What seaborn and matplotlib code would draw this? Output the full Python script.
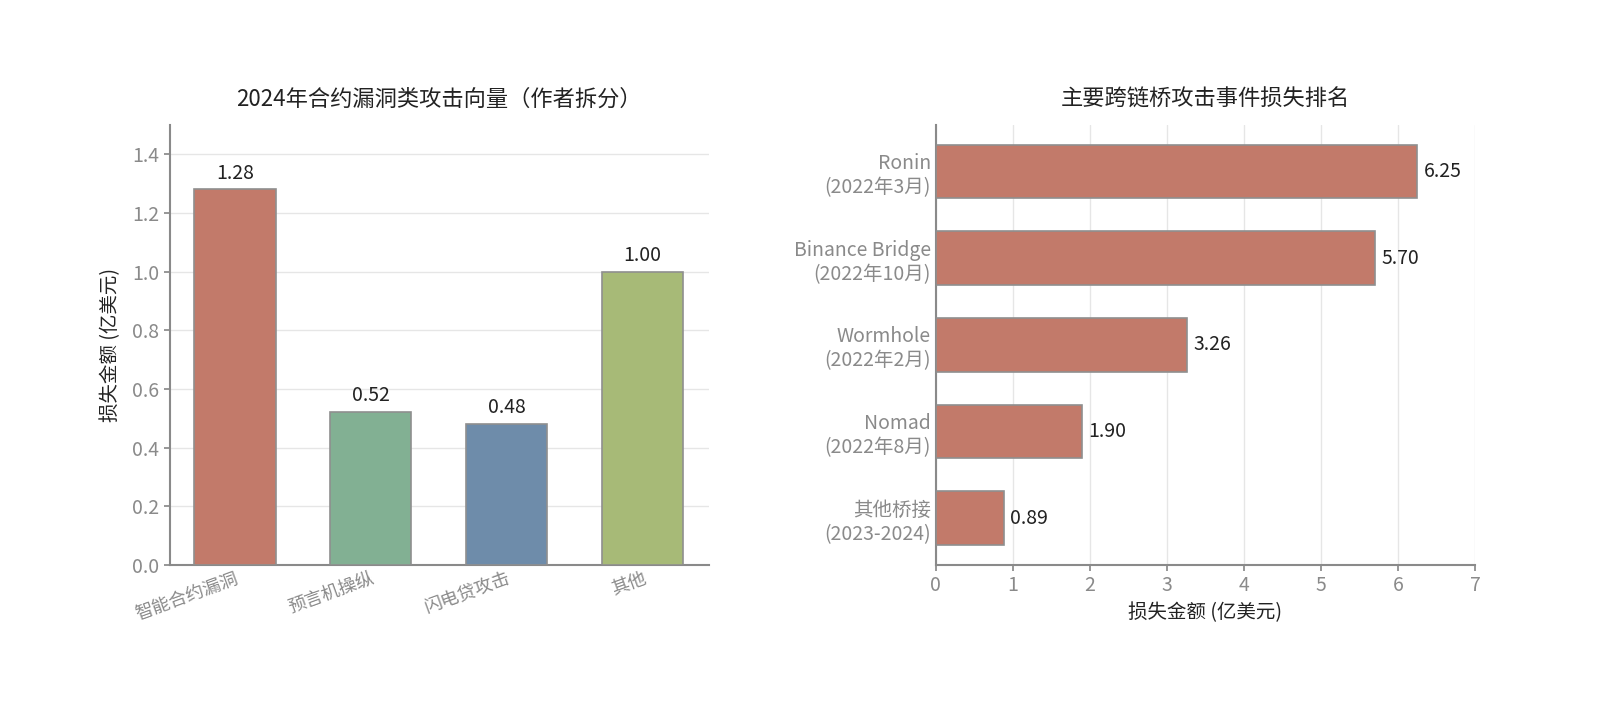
import matplotlib
matplotlib.use('Agg')
import matplotlib.pyplot as plt
import seaborn as sns
import pandas as pd

# data
vector_names = ['智能合约漏洞', '预言机操纵', '闪电贷攻击', '其他']
vector_losses = [1.28, 0.52, 0.48, 1.00]
vector_colors = ['#C27A6A', '#82B093', '#6E8CAA', '#A7BA77']

bridge_names = ['Ronin\n(2022年3月)', 'Binance Bridge\n(2022年10月)', 'Wormhole\n(2022年2月)',
                'Nomad\n(2022年8月)', '其他桥接\n(2023-2024)']
bridge_losses = [6.25, 5.70, 3.26, 1.90, 0.89]
bridge_color = '#C27A6A'

sns.set_theme(style='white')
plt.rcParams['font.family'] = ['Noto Sans CJK SC', 'DejaVu Sans']
plt.rcParams['axes.unicode_minus'] = False

tick_gray = '#8a8a8a'
spine_gray = '#8a8a8a'
text_dark = '#222222'

fig, (ax1, ax2) = plt.subplots(1, 2, figsize=(16, 7.26), dpi=100)
fig.subplots_adjust(left=0.106, right=0.922, top=0.828, bottom=0.222, wspace=0.42)

# left: attack vectors
df1 = pd.DataFrame({'类型': vector_names, '损失': vector_losses})
sns.barplot(data=df1, x='类型', y='损失', hue='类型', palette=vector_colors, legend=False,
            saturation=1, width=0.6, edgecolor='#8f8f8f', linewidth=1.2, ax=ax1, zorder=3)
ax1.set_ylim(0, 1.5)
ax1.set_xlim(-0.48, 3.49)
ax1.set_yticks([0, 0.2, 0.4, 0.6, 0.8, 1.0, 1.2, 1.4])
ax1.yaxis.grid(True, color='#e6e6e6', linewidth=1, zorder=0)
ax1.set_xlabel('')
ax1.set_ylabel('损失金额 (亿美元)', fontsize=14, color=text_dark, labelpad=8)
ax1.set_title('2024年合约漏洞类攻击向量（作者拆分）', fontsize=16, color=text_dark, pad=14)
for p, v in zip(ax1.patches, vector_losses):
    ax1.text(p.get_x() + p.get_width() / 2, v + 0.02, f'{v:.2f}', ha='center', va='bottom',
             fontsize=14, color=text_dark)
ax1.tick_params(axis='y', labelsize=14, colors=tick_gray, length=4, left=True)
ax1.tick_params(axis='x', labelsize=13, colors=tick_gray, length=0)
for lab in ax1.get_xticklabels():
    lab.set_rotation(20)
    lab.set_ha('right')
    lab.set_rotation_mode('anchor')

# right: bridge rankings
df2 = pd.DataFrame({'桥': bridge_names, '损失': bridge_losses})
sns.barplot(data=df2, y='桥', x='损失', color=bridge_color, orient='h', saturation=1,
            width=0.62, edgecolor='#8f8f8f', linewidth=1.2, ax=ax2, zorder=3)
ax2.set_xlim(0, 7)
ax2.set_ylim(4.54, -0.54)
ax2.set_xticks(range(0, 8))
ax2.xaxis.grid(True, color='#e6e6e6', linewidth=1, zorder=0)
ax2.set_ylabel('')
ax2.set_xlabel('损失金额 (亿美元)', fontsize=14, color=text_dark)
ax2.set_title('主要跨链桥攻击事件损失排名', fontsize=16, color=text_dark, pad=14)
for p, v in zip(ax2.patches, bridge_losses):
    ax2.text(v + 0.08, p.get_y() + p.get_height() / 2, f'{v:.2f}', ha='left', va='center',
             fontsize=14, color=text_dark)
ax2.tick_params(axis='x', labelsize=14, colors=tick_gray, length=4, bottom=True)
ax2.tick_params(axis='y', labelsize=14, colors=tick_gray, length=0)

for ax in (ax1, ax2):
    sns.despine(ax=ax)
    for s in ('left', 'bottom'):
        ax.spines[s].set_color(spine_gray)
        ax.spines[s].set_linewidth(1.5)
    ax.set_axisbelow(True)

plt.savefig('out.png', dpi=100, facecolor='white')
